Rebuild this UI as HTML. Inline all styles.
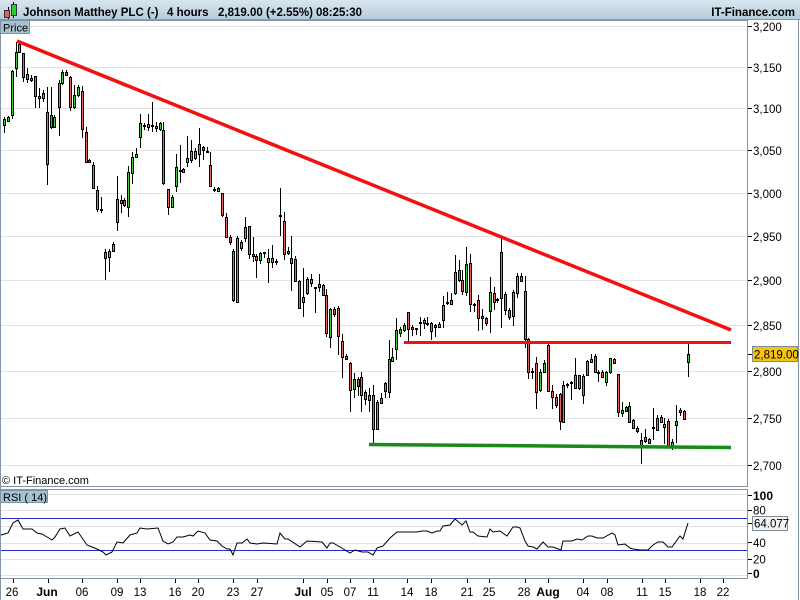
<!DOCTYPE html>
<html><head><meta charset="utf-8"><style>
html,body{margin:0;padding:0;background:#fff;width:800px;height:600px;overflow:hidden}
svg{display:block}
text{font-family:"Liberation Sans",Arial,sans-serif;fill:#000}
</style></head><body>
<svg width="800" height="600" viewBox="0 0 800 600" xmlns="http://www.w3.org/2000/svg">
<defs><linearGradient id="hg" x1="0" y1="0" x2="0" y2="1"><stop offset="0" stop-color="#d8e7ef"/><stop offset="1" stop-color="#b4cbd8"/></linearGradient></defs>
<rect x="0" y="0" width="800" height="600" fill="#fff"/>
<!-- header -->
<rect x="0" y="0" width="800" height="20" fill="url(#hg)"/>
<line x1="0" y1="19.5" x2="800" y2="19.5" stroke="#8299a8"/>
<line x1="8.5" y1="7" x2="8.5" y2="19" stroke="#000"/>
<rect x="4.5" y="10.5" width="5" height="7" fill="#e06060" stroke="#333"/>
<line x1="13.5" y1="2" x2="13.5" y2="18" stroke="#000"/>
<rect x="11.5" y="4.5" width="5" height="11" fill="#33cc33" stroke="#333"/>
<g font-size="11.5" font-weight="bold" fill="#111">
<text x="23" y="16">Johnson Matthey PLC (-)</text>
<text x="167" y="16">4 hours</text>
<text x="218" y="16">2,819.00 (+2.55%)</text>
<text x="316" y="16">08:25:30</text>
</g>
<text x="795" y="16" font-size="11.5" font-weight="bold" text-anchor="end">IT-Finance.com</text>
<!-- outer frame -->
<line x1="0.5" y1="20" x2="0.5" y2="600" stroke="#8494a2"/>
<line x1="798.5" y1="20" x2="798.5" y2="600" stroke="#8494a2"/>
<!-- price grid -->
<g stroke="#e2e2e2" stroke-width="1" shape-rendering="crispEdges">
<line x1="1" y1="26.5" x2="747" y2="26.5"/><line x1="1" y1="67.5" x2="747" y2="67.5"/><line x1="1" y1="108.5" x2="747" y2="108.5"/><line x1="1" y1="150.5" x2="747" y2="150.5"/><line x1="1" y1="193.5" x2="747" y2="193.5"/><line x1="1" y1="236.5" x2="747" y2="236.5"/><line x1="1" y1="280.5" x2="747" y2="280.5"/><line x1="1" y1="325.5" x2="747" y2="325.5"/><line x1="1" y1="371.5" x2="747" y2="371.5"/><line x1="1" y1="418.5" x2="747" y2="418.5"/><line x1="1" y1="465.5" x2="747" y2="465.5"/>
</g>
<!-- price panel frame -->
<g stroke="#8494a2" fill="none" shape-rendering="crispEdges">
<line x1="0" y1="20.5" x2="748" y2="20.5"/>
<line x1="747.5" y1="20" x2="747.5" y2="487"/>
<line x1="0" y1="486.5" x2="748" y2="486.5"/>
<line x1="0" y1="489.5" x2="748" y2="489.5"/>
<line x1="747.5" y1="489" x2="747.5" y2="579"/>
<line x1="0" y1="578.5" x2="748" y2="578.5"/>
</g>
<!-- price axis -->
<g stroke="#000" shape-rendering="crispEdges">
<line x1="748" y1="26.5" x2="752" y2="26.5"/><line x1="748" y1="67.5" x2="752" y2="67.5"/><line x1="748" y1="108.5" x2="752" y2="108.5"/><line x1="748" y1="150.5" x2="752" y2="150.5"/><line x1="748" y1="193.5" x2="752" y2="193.5"/><line x1="748" y1="236.5" x2="752" y2="236.5"/><line x1="748" y1="280.5" x2="752" y2="280.5"/><line x1="748" y1="325.5" x2="752" y2="325.5"/><line x1="748" y1="371.5" x2="752" y2="371.5"/><line x1="748" y1="418.5" x2="752" y2="418.5"/><line x1="748" y1="465.5" x2="752" y2="465.5"/><line x1="748" y1="354.5" x2="752" y2="354.5"/>
</g>
<g font-size="11.5">
<text x="753" y="31">3,200</text><text x="753" y="72">3,150</text><text x="753" y="113">3,100</text><text x="753" y="155">3,050</text><text x="753" y="198">3,000</text><text x="753" y="241">2,950</text><text x="753" y="285">2,900</text><text x="753" y="330">2,850</text><text x="753" y="376">2,800</text><text x="753" y="423">2,750</text><text x="753" y="470">2,700</text>
</g>
<rect x="752.5" y="346.5" width="45" height="15" fill="#f5c412" stroke="#7d8b96"/>
<text x="754" y="358.5" font-size="11.5">2,819.00</text>
<!-- Price label box -->
<rect x="0.5" y="20.5" width="29" height="13" fill="#a6c1d0" stroke="#7a95a5"/>
<text x="3" y="31.5" font-size="11">Price</text>
<!-- candle wicks -->
<path stroke="#000" stroke-width="1" fill="none" shape-rendering="crispEdges" d="M4.5 117V133M8.5 116V122M12.5 70V119M16.5 42V77M19.5 41V53M23.5 53V82M27.5 68V83M31.5 75V82M35.5 76V108M39.5 88V108M43.5 90V102M47.5 87V185M51.5 87V129M54.5 115V128M59.5 80V136M62.5 70V85M66.5 70V76M70.5 76V111M74.5 85V109M78.5 85V97M82.5 86V138M86.5 127V163M89.5 159V163M93.5 162V188M97.5 186V212M101.5 197V213M105.5 249V280M109.5 249V272M113.5 242V252M117.5 176V231M121.5 195V213M124.5 198V207M128.5 166V217M132.5 152V184M136.5 148V158M140.5 114V148M144.5 123V130M148.5 114V131M152.5 102V132M156.5 122V132M160.5 122V131M163.5 122V185M168.5 189V215M172.5 195V208M176.5 154V192M180.5 145V183M183.5 168V173M187.5 136V167M191.5 140V163M195.5 148V160M199.5 128V167M203.5 146V160M207.5 147V153M210.5 152V187M214.5 187V192M218.5 187V192M222.5 193V217M226.5 213V238M230.5 235V245M233.5 249V302M237.5 236V302M241.5 240V251M245.5 217V242M249.5 226V259M253.5 237V262M256.5 254V278M260.5 252V264M264.5 252V258M268.5 249V283M272.5 245V268M276.5 259V265M280.5 188V236M284.5 212V260M288.5 247V255M291.5 236V291M295.5 256V282M299.5 280V309M303.5 268V317M307.5 277V295M311.5 274V287M315.5 287V313M319.5 274V292M323.5 284V296M326.5 289V337M330.5 308V348M334.5 307V317M338.5 306V355M342.5 334V378M346.5 354V360M350.5 362V412M354.5 373V398M358.5 377V396M361.5 372V412M365.5 390V405M369.5 388V412M373.5 385V443M377.5 400V430M381.5 393V404M385.5 382V398M389.5 340V398M392.5 348V362M396.5 318V360M400.5 327V337M404.5 323V332M408.5 312V341M412.5 325V336M416.5 328V335M420.5 317V336M424.5 318V329M427.5 317V326M431.5 322V340M435.5 324V337M439.5 322V328M443.5 296V328M447.5 292V305M451.5 293V305M455.5 255V295M459.5 260V282M462.5 270V295M466.5 247V296M470.5 254V312M474.5 303V312M478.5 295V331M482.5 309V330M486.5 317V326M490.5 277V333M494.5 287V310M497.5 298V303M501.5 238V328M505.5 292V315M509.5 308V320M513.5 290V326M517.5 273V298M521.5 273V282M525.5 276V348M528.5 338V379M532.5 368V379M536.5 357V409M540.5 369V392M544.5 360V373M548.5 344V392M552.5 385V409M556.5 394V408M560.5 393V430M563.5 381V422M567.5 383V388M571.5 381V400M575.5 358V389M579.5 375V390M583.5 374V404M587.5 360V376M591.5 354V363M595.5 354V373M598.5 370V382M602.5 370V377M606.5 371V386M610.5 358V374M614.5 358V364M618.5 374V417M622.5 402V417M626.5 406V412M629.5 402V422M633.5 419V429M637.5 426V433M641.5 433V464M645.5 429V443M649.5 438V444M653.5 408V440M657.5 415V431M661.5 415V422M664.5 418V444M668.5 419V447M672.5 439V450M676.5 405V443M680.5 408V416M684.5 410V419M688.5 343V377"/>
<!-- green bodies -->
<g fill="#3ccc3c" stroke="#000" stroke-width="1" shape-rendering="crispEdges">
<rect x="3.5" y="119.5" width="2" height="6"/><rect x="7.5" y="117.5" width="2" height="4"/><rect x="11.5" y="71.5" width="2" height="44"/><rect x="15.5" y="52.5" width="2" height="16"/><rect x="18.5" y="44.5" width="2" height="8"/><rect x="30.5" y="78.5" width="2" height="2"/><rect x="42.5" y="93.5" width="2" height="5"/><rect x="46.5" y="112.5" width="2" height="52"/><rect x="53.5" y="117.5" width="2" height="10"/><rect x="58.5" y="83.5" width="2" height="24"/><rect x="61.5" y="72.5" width="2" height="11"/><rect x="73.5" y="95.5" width="2" height="12"/><rect x="77.5" y="87.5" width="2" height="8"/><rect x="88.5" y="160.5" width="2" height="2"/><rect x="100.5" y="209.5" width="2" height="1"/><rect x="108.5" y="251.5" width="2" height="6"/><rect x="112.5" y="244.5" width="2" height="7"/><rect x="116.5" y="199.5" width="2" height="23"/><rect x="127.5" y="172.5" width="2" height="35"/><rect x="131.5" y="157.5" width="2" height="16"/><rect x="135.5" y="154.5" width="2" height="3"/><rect x="139.5" y="123.5" width="2" height="14"/><rect x="143.5" y="125.5" width="2" height="1"/><rect x="151.5" y="125.5" width="2" height="1"/><rect x="159.5" y="123.5" width="2" height="6"/><rect x="171.5" y="197.5" width="2" height="10"/><rect x="175.5" y="167.5" width="2" height="19"/><rect x="179.5" y="170.5" width="2" height="1"/><rect x="182.5" y="169.5" width="2" height="3"/><rect x="190.5" y="151.5" width="2" height="9"/><rect x="194.5" y="151.5" width="2" height="7"/><rect x="198.5" y="144.5" width="2" height="10"/><rect x="206.5" y="151.5" width="2" height="1"/><rect x="213.5" y="189.5" width="2" height="1"/><rect x="217.5" y="188.5" width="2" height="3"/><rect x="236.5" y="238.5" width="2" height="64"/><rect x="240.5" y="242.5" width="2" height="6"/><rect x="244.5" y="227.5" width="2" height="11"/><rect x="259.5" y="253.5" width="2" height="7"/><rect x="263.5" y="252.5" width="2" height="1"/><rect x="267.5" y="258.5" width="2" height="4"/><rect x="275.5" y="261.5" width="2" height="1"/><rect x="279.5" y="215.5" width="2" height="1"/><rect x="287.5" y="251.5" width="2" height="2"/><rect x="302.5" y="297.5" width="2" height="5"/><rect x="306.5" y="279.5" width="2" height="14"/><rect x="314.5" y="287.5" width="2" height="1"/><rect x="318.5" y="284.5" width="2" height="3"/><rect x="329.5" y="309.5" width="2" height="28"/><rect x="353.5" y="379.5" width="2" height="10"/><rect x="368.5" y="395.5" width="2" height="5"/><rect x="376.5" y="402.5" width="2" height="27"/><rect x="380.5" y="398.5" width="2" height="5"/><rect x="388.5" y="359.5" width="2" height="33"/><rect x="391.5" y="357.5" width="2" height="4"/><rect x="395.5" y="330.5" width="2" height="19"/><rect x="399.5" y="329.5" width="2" height="4"/><rect x="403.5" y="325.5" width="2" height="5"/><rect x="415.5" y="328.5" width="2" height="1"/><rect x="419.5" y="322.5" width="2" height="1"/><rect x="426.5" y="323.5" width="2" height="1"/><rect x="434.5" y="325.5" width="2" height="2"/><rect x="438.5" y="324.5" width="2" height="3"/><rect x="442.5" y="305.5" width="2" height="15"/><rect x="446.5" y="302.5" width="2" height="1"/><rect x="450.5" y="300.5" width="2" height="4"/><rect x="454.5" y="272.5" width="2" height="21"/><rect x="465.5" y="264.5" width="2" height="28"/><rect x="473.5" y="304.5" width="2" height="1"/><rect x="489.5" y="292.5" width="2" height="19"/><rect x="496.5" y="299.5" width="2" height="1"/><rect x="512.5" y="292.5" width="2" height="24"/><rect x="516.5" y="276.5" width="2" height="17"/><rect x="531.5" y="371.5" width="2" height="1"/><rect x="539.5" y="372.5" width="2" height="18"/><rect x="543.5" y="363.5" width="2" height="9"/><rect x="562.5" y="385.5" width="2" height="37"/><rect x="566.5" y="384.5" width="2" height="1"/><rect x="570.5" y="382.5" width="2" height="1"/><rect x="574.5" y="375.5" width="2" height="13"/><rect x="582.5" y="376.5" width="2" height="19"/><rect x="586.5" y="361.5" width="2" height="14"/><rect x="590.5" y="359.5" width="2" height="3"/><rect x="605.5" y="372.5" width="2" height="10"/><rect x="609.5" y="358.5" width="2" height="14"/><rect x="621.5" y="410.5" width="2" height="3"/><rect x="625.5" y="407.5" width="2" height="4"/><rect x="640.5" y="440.5" width="2" height="6"/><rect x="652.5" y="427.5" width="2" height="1"/><rect x="656.5" y="418.5" width="2" height="12"/><rect x="663.5" y="424.5" width="2" height="3"/><rect x="671.5" y="442.5" width="2" height="4"/><rect x="675.5" y="421.5" width="2" height="4"/><rect x="679.5" y="410.5" width="2" height="2"/><rect x="687.5" y="354.5" width="2" height="8"/>
</g>
<!-- red bodies -->
<g fill="#e06262" stroke="#000" stroke-width="1" shape-rendering="crispEdges">
<rect x="22.5" y="53.5" width="2" height="24"/><rect x="26.5" y="74.5" width="2" height="5"/><rect x="34.5" y="76.5" width="2" height="20"/><rect x="38.5" y="96.5" width="2" height="2"/><rect x="50.5" y="115.5" width="2" height="12"/><rect x="65.5" y="72.5" width="2" height="3"/><rect x="69.5" y="77.5" width="2" height="30"/><rect x="81.5" y="91.5" width="2" height="38"/><rect x="85.5" y="132.5" width="2" height="30"/><rect x="92.5" y="165.5" width="2" height="23"/><rect x="96.5" y="190.5" width="2" height="19"/><rect x="104.5" y="252.5" width="2" height="6"/><rect x="120.5" y="200.5" width="2" height="3"/><rect x="123.5" y="200.5" width="2" height="5"/><rect x="147.5" y="124.5" width="2" height="3"/><rect x="155.5" y="126.5" width="2" height="2"/><rect x="162.5" y="130.5" width="2" height="53"/><rect x="167.5" y="189.5" width="2" height="18"/><rect x="186.5" y="158.5" width="2" height="4"/><rect x="202.5" y="147.5" width="2" height="3"/><rect x="209.5" y="165.5" width="2" height="21"/><rect x="221.5" y="193.5" width="2" height="22"/><rect x="225.5" y="217.5" width="2" height="20"/><rect x="229.5" y="237.5" width="2" height="5"/><rect x="232.5" y="251.5" width="2" height="49"/><rect x="248.5" y="226.5" width="2" height="28"/><rect x="252.5" y="254.5" width="2" height="2"/><rect x="255.5" y="256.5" width="2" height="4"/><rect x="271.5" y="258.5" width="2" height="4"/><rect x="283.5" y="221.5" width="2" height="33"/><rect x="290.5" y="258.5" width="2" height="5"/><rect x="294.5" y="259.5" width="2" height="22"/><rect x="298.5" y="281.5" width="2" height="27"/><rect x="310.5" y="279.5" width="2" height="4"/><rect x="322.5" y="285.5" width="2" height="10"/><rect x="325.5" y="295.5" width="2" height="38"/><rect x="333.5" y="309.5" width="2" height="5"/><rect x="337.5" y="308.5" width="2" height="28"/><rect x="341.5" y="341.5" width="2" height="16"/><rect x="345.5" y="356.5" width="2" height="3"/><rect x="349.5" y="363.5" width="2" height="27"/><rect x="357.5" y="379.5" width="2" height="7"/><rect x="360.5" y="377.5" width="2" height="18"/><rect x="364.5" y="392.5" width="2" height="7"/><rect x="372.5" y="395.5" width="2" height="34"/><rect x="384.5" y="383.5" width="2" height="8"/><rect x="407.5" y="312.5" width="2" height="17"/><rect x="411.5" y="327.5" width="2" height="2"/><rect x="423.5" y="320.5" width="2" height="3"/><rect x="430.5" y="323.5" width="2" height="8"/><rect x="458.5" y="270.5" width="2" height="10"/><rect x="461.5" y="280.5" width="2" height="11"/><rect x="469.5" y="263.5" width="2" height="41"/><rect x="477.5" y="300.5" width="2" height="18"/><rect x="481.5" y="316.5" width="2" height="2"/><rect x="485.5" y="318.5" width="2" height="5"/><rect x="493.5" y="293.5" width="2" height="9"/><rect x="500.5" y="252.5" width="2" height="46"/><rect x="504.5" y="294.5" width="2" height="16"/><rect x="508.5" y="310.5" width="2" height="7"/><rect x="520.5" y="276.5" width="2" height="5"/><rect x="524.5" y="291.5" width="2" height="48"/><rect x="527.5" y="339.5" width="2" height="33"/><rect x="535.5" y="363.5" width="2" height="29"/><rect x="547.5" y="345.5" width="2" height="46"/><rect x="551.5" y="391.5" width="2" height="6"/><rect x="555.5" y="397.5" width="2" height="8"/><rect x="559.5" y="394.5" width="2" height="27"/><rect x="578.5" y="375.5" width="2" height="13"/><rect x="594.5" y="356.5" width="2" height="16"/><rect x="597.5" y="372.5" width="2" height="1"/><rect x="601.5" y="372.5" width="2" height="5"/><rect x="613.5" y="359.5" width="2" height="4"/><rect x="617.5" y="374.5" width="2" height="38"/><rect x="628.5" y="406.5" width="2" height="16"/><rect x="632.5" y="420.5" width="2" height="8"/><rect x="636.5" y="428.5" width="2" height="3"/><rect x="644.5" y="437.5" width="2" height="4"/><rect x="648.5" y="439.5" width="2" height="4"/><rect x="660.5" y="417.5" width="2" height="5"/><rect x="667.5" y="421.5" width="2" height="25"/><rect x="683.5" y="411.5" width="2" height="8"/>
</g>
<!-- trendlines -->
<line x1="17" y1="41" x2="731" y2="330" stroke="#f21010" stroke-width="3.5" stroke-linecap="butt"/>
<line x1="404" y1="342.5" x2="731" y2="342.5" stroke="#f21010" stroke-width="3"/>
<line x1="369" y1="444.5" x2="731" y2="447.5" stroke="#178a17" stroke-width="3.5"/>
<text x="2" y="484" font-size="11">© IT-Finance.com</text>
<!-- RSI grid -->
<g stroke="#e2e2e2" shape-rendering="crispEdges">
<line x1="1" y1="494.5" x2="747" y2="494.5"/><line x1="1" y1="510.5" x2="747" y2="510.5"/><line x1="1" y1="526.5" x2="747" y2="526.5"/><line x1="1" y1="543.5" x2="747" y2="543.5"/><line x1="1" y1="559.5" x2="747" y2="559.5"/><line x1="1" y1="575.5" x2="747" y2="575.5"/>
</g>
<g stroke="#2a2ad0" shape-rendering="crispEdges">
<line x1="1" y1="518.5" x2="747" y2="518.5"/><line x1="1" y1="550.5" x2="747" y2="550.5"/>
</g>
<polyline fill="none" stroke="#000" stroke-width="1" points="1,535 8,533 13,523 18,520 23,529 32,529 37,533 42,534 47,537 52,540 55,537 60,529 65,528 70,536 78,532 87,545 92,547 97,549 103,552 106,555 112,552 117,542 123,543 130,535 137,533 140,528 147,529 158,528 163,541 168,544 173,542 177,537 183,537 190,535 193,536 198,531 205,533 210,540 217,541 222,546 227,549 230,549 233,555 237,543 242,543 247,539 250,543 257,544 263,543 277,544 280,533 285,539 288,539 300,547 307,541 322,542 327,548 330,543 333,543 340,547 350,553 355,550 362,552 368,552 373,555 377,548 383,546 390,538 397,532 407,532 417,532 422,531 427,531 432,533 437,531 440,531 443,526 450,525 455,519 462,525 466,521 470,532 473,532 478,536 487,537 490,529 493,532 500,531 507,536 513,527 517,527 520,528 525,541 528,546 533,547 537,549 543,542 548,547 553,547 561,550 563,541 572,541 577,539 582,540 588,536 592,536 597,538 603,538 612,533 615,535 618,545 625,544 630,548 633,549 640,550 648,550 653,545 658,542 663,542 668,547 672,547 680,536 683,539 688,523"/>
<rect x="0.5" y="490.5" width="47" height="12" fill="#a6c1d0" stroke="#7a95a5"/>
<text x="3" y="501" font-size="11">RSI ( 14)</text>
<!-- RSI axis -->
<g stroke="#000" shape-rendering="crispEdges">
<line x1="748" y1="495.5" x2="752" y2="495.5"/><line x1="748" y1="510.5" x2="752" y2="510.5"/><line x1="748" y1="523.5" x2="752" y2="523.5"/><line x1="748" y1="542.5" x2="752" y2="542.5"/><line x1="748" y1="559.5" x2="752" y2="559.5"/><line x1="748" y1="573.5" x2="752" y2="573.5"/>
</g>
<text x="753" y="500" font-size="12" font-weight="bold">100</text>
<text x="753" y="514.5" font-size="11.5">80</text>
<rect x="752.5" y="516.5" width="35" height="14" fill="#f2f2f2" stroke="#7d8b96"/>
<text x="754" y="527.5" font-size="11.5">64.077</text>
<text x="753" y="547" font-size="11.5">40</text>
<text x="753" y="563.5" font-size="11.5">20</text>
<text x="753" y="578" font-size="12" font-weight="bold">0</text>
<!-- x axis -->
<g stroke="#000" shape-rendering="crispEdges">
<line x1="13.5" y1="579" x2="13.5" y2="583"/><line x1="48.5" y1="579" x2="48.5" y2="583"/><line x1="82.5" y1="579" x2="82.5" y2="583"/><line x1="117.5" y1="579" x2="117.5" y2="583"/><line x1="140.5" y1="579" x2="140.5" y2="583"/><line x1="175.5" y1="579" x2="175.5" y2="583"/><line x1="198.5" y1="579" x2="198.5" y2="583"/><line x1="233.5" y1="579" x2="233.5" y2="583"/><line x1="257.5" y1="579" x2="257.5" y2="583"/><line x1="303.5" y1="579" x2="303.5" y2="583"/><line x1="327.5" y1="579" x2="327.5" y2="583"/><line x1="350.5" y1="579" x2="350.5" y2="583"/><line x1="373.5" y1="579" x2="373.5" y2="583"/><line x1="407.5" y1="579" x2="407.5" y2="583"/><line x1="431.5" y1="579" x2="431.5" y2="583"/><line x1="467.5" y1="579" x2="467.5" y2="583"/><line x1="489.5" y1="579" x2="489.5" y2="583"/><line x1="525.5" y1="579" x2="525.5" y2="583"/><line x1="548.5" y1="579" x2="548.5" y2="583"/><line x1="583.5" y1="579" x2="583.5" y2="583"/><line x1="607.5" y1="579" x2="607.5" y2="583"/><line x1="642.5" y1="579" x2="642.5" y2="583"/><line x1="665.5" y1="579" x2="665.5" y2="583"/><line x1="700.5" y1="579" x2="700.5" y2="583"/><line x1="723.5" y1="579" x2="723.5" y2="583"/>
</g>
<g font-size="11.5" text-anchor="middle">
<text x="12" y="596">26</text><text x="47" y="596" font-weight="bold" font-size="12">Jun</text><text x="82" y="596">06</text><text x="117" y="596">09</text><text x="140" y="596">13</text><text x="175" y="596">16</text><text x="198" y="596">20</text><text x="233" y="596">23</text><text x="257" y="596">27</text><text x="303" y="596" font-weight="bold" font-size="12">Jul</text><text x="327" y="596">05</text><text x="350" y="596">07</text><text x="373" y="596">11</text><text x="407" y="596">14</text><text x="431" y="596">18</text><text x="467" y="596">21</text><text x="489" y="596">25</text><text x="524" y="596">28</text><text x="548" y="596" font-weight="bold" font-size="12">Aug</text><text x="583" y="596">04</text><text x="607" y="596">08</text><text x="642" y="596">11</text><text x="665" y="596">15</text><text x="700" y="596">18</text><text x="723" y="596">22</text>
</g>
</svg>
</body></html>
